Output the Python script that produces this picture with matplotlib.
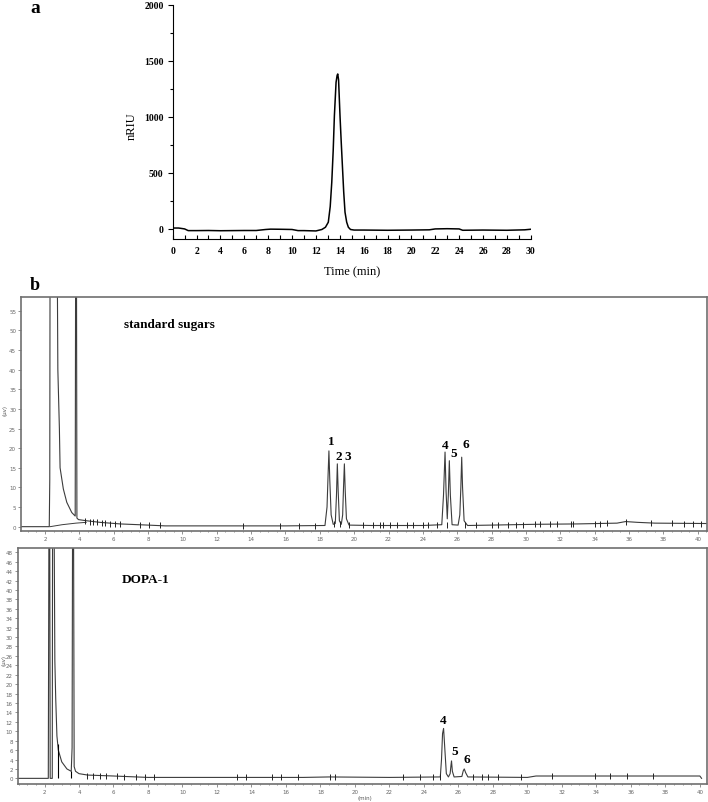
import matplotlib.pyplot as plt
from matplotlib.ticker import MultipleLocator

SERIF = 'Liberation Serif'

# panel a: RI chromatogram
a_time = [0, 0.5, 1.0, 1.3, 2, 3, 4, 5, 6, 7, 7.8, 8.2, 9, 10, 10.5, 11, 12, 12.5,
          12.8, 13.04, 13.2, 13.33, 13.45, 13.55, 13.69, 13.78, 13.83, 13.9, 14.02,
          14.12, 14.22, 14.33, 14.44, 14.58, 14.72, 14.9, 15.2, 16, 18, 20, 21.5,
          22, 23, 24, 24.3, 26, 28, 29.5, 30]
a_signal = [8, 8, 0, -15, -15, -14, -16, -15, -14, -14, -5, -2, -3, -5, -15, -15, -18,
            -5, 15, 60, 200, 416, 700, 1010, 1308, 1370, 1382, 1330, 1010, 780, 565,
            330, 149, 60, 15, -5, -10, -10, -12, -10, -8, 0, 2, 0, -12, -10, -12, -8, -3]
a_xticks = list(range(0, 31, 2))
a_yticks = [0, 500, 1000, 1500, 2000]

# panel b, top: standard sugars
std_time = [0.6, 2.25, 2.28, 2.30, 2.70, 2.75, 2.84, 2.88, 3.07, 3.27, 3.56, 3.76,
            3.79, 3.83, 3.86, 3.95, 4.43, 5.2, 6.37, 8, 9, 12, 16, 18.3,
            18.42, 18.48, 18.53, 18.58, 18.66, 18.78, 18.9, 18.97, 19.02, 19.07, 19.14,
            19.25, 19.33, 19.38, 19.43, 19.48, 19.55, 19.7, 21, 24, 25.1, 25.2, 25.29,
            25.35, 25.42, 25.48, 25.54, 25.6, 25.7, 26.05, 26.15, 26.21, 26.26, 26.31,
            26.4, 26.6, 28, 30.5, 33, 35.3, 35.8, 36.5, 37.5, 40.6]
std_signal = [0, 0, 12, 80, 80, 40, 25, 15, 9.6, 6.2, 3.6, 2.7,
              80, 80, 2.2, 1.8, 1.5, 1.1, 0.7, 0.4, 0.2, 0.2, 0.2, 0.3,
              5, 13, 19.3, 12, 3, 0.6, 0.8, 8, 16.0, 9, 1.5,
              0.6, 3, 10, 16.0, 9, 2, 0.4, 0.3, 0.3, 0.5, 8, 19.0,
              9, 2, 8, 16.8, 8, 0.5, 0.4, 3, 10, 17.7, 10,
              1.5, 0.3, 0.4, 0.6, 0.7, 0.9, 1.3, 1.1, 0.9, 0.8]
std_base_time = [2.3, 3.0, 3.8, 4.4]
std_base_signal = [0, 0.5, 0.9, 1.1]
std_event_time = [4.34, 4.63, 4.82, 5.02, 5.3, 5.5, 5.79, 6.09, 6.38, 7.55, 8.06, 8.7,
                  13.55, 15.7, 16.8, 17.7, 18.8, 19.2, 19.7, 20.5, 21.1, 21.5, 21.7,
                  22.1, 22.5, 23.1, 23.4, 24.0, 24.3, 24.8, 25.4, 26.45, 27.1, 28.0,
                  28.4, 28.97, 29.4, 29.85, 30.5, 30.8, 31.4, 31.8, 32.6, 32.76, 34.0,
                  34.3, 34.7, 35.8, 37.3, 38.5, 39.2, 39.7, 40.2]
std_event_signal = [1.4, 1.3, 1.2, 1.1, 1.0, 0.9, 0.8, 0.7, 0.6, 0.4, 0.4, 0.3,
                    0.2, 0.2, 0.2, 0.2, 0.6, 0.6, 0.4, 0.3, 0.3, 0.3, 0.3,
                    0.3, 0.3, 0.3, 0.3, 0.3, 0.3, 0.4, 0.4, 0.3, 0.3, 0.4,
                    0.4, 0.4, 0.5, 0.5, 0.6, 0.6, 0.6, 0.6, 0.7, 0.7, 0.8,
                    0.8, 0.9, 1.3, 1.0, 0.9, 0.8, 0.8, 0.8]
std_peaks = ['1', '2', '3', '4', '5', '6']
std_peak_time = [18.65, 19.12, 19.62, 25.29, 25.77, 26.49]
std_peak_label_y = [21.7, 18.1, 18.1, 20.9, 18.7, 21.1]
std_yticks = list(range(0, 56, 5))

# panel b, bottom: DOPA-1
dopa_time = [0.45, 2.22, 2.26, 2.30, 2.33, 2.45, 2.47, 2.55, 2.6, 2.65, 2.72, 2.8,
             3.0, 3.3, 3.55, 3.6, 3.63, 3.68, 3.72, 3.8, 4.0, 4.5, 6, 8, 13, 17,
             18.5, 22, 24.95, 25.02, 25.08, 25.14, 25.2, 25.3, 25.42, 25.52, 25.57,
             25.6, 25.65, 25.75, 26.2, 26.28, 26.34, 26.42, 26.55, 30, 30.5, 38.7,
             40.0, 40.1]
dopa_signal = [0, 0, 60, 60, 0, 0, 60, 60, 25, 17, 9, 6,
               3.5, 2, 1.5, 6.5, 60, 60, 2.5, 1.5, 1.0, 0.7, 0.5, 0.2, 0.2, 0.2,
               0.3, 0.2, 0.3, 4, 9.5, 10.6, 7, 1, 0.3, 1, 2.8, 3.7, 1.5, 0.3, 0.4,
               1.6, 2.0, 1.2, 0.3, 0.2, 0.5, 0.5, 0.5, 0]
dopa_drop_time = [2.76, 3.54]
dopa_drop_top = [7.2, 1.6]
dopa_event_time = [4.48, 4.83, 5.2, 5.55, 6.19, 6.6, 7.3, 7.8, 8.35, 13.14, 13.68,
                   15.17, 15.71, 16.68, 18.55, 18.84, 22.8, 23.8, 24.54, 24.93, 26.86,
                   27.34, 27.73, 28.3, 29.62, 31.4, 33.9, 34.8, 35.8, 37.3]
dopa_event_signal = [0.6, 0.5, 0.5, 0.45, 0.4, 0.35, 0.3, 0.25, 0.2, 0.2, 0.2,
                     0.2, 0.2, 0.2, 0.3, 0.3, 0.2, 0.2, 0.2, 0.2, 0.2,
                     0.2, 0.2, 0.2, 0.2, 0.5, 0.5, 0.5, 0.5, 0.5]
dopa_peaks = ['4', '5', '6']
dopa_peak_time = [25.14, 25.76, 26.48]
dopa_peak_label_y = [12.4, 5.9, 4.2]
dopa_yticks = list(range(0, 49, 2))

fig = plt.figure(figsize=(7.08, 8.03), dpi=100)

# ---- panel a ----
ax = fig.add_axes([0.2439, 0.7011, 0.5057, 0.2918])
ax.plot(a_time, a_signal, color='black', lw=1.1)
ax.set_xlim(0, 30)
ax.set_ylim(-90, 2000)
ax.spines['top'].set_visible(False)
ax.spines['right'].set_visible(False)
ax.set_xticks(a_xticks)
ax.set_yticks(a_yticks)
ax.xaxis.set_minor_locator(MultipleLocator(1))
ax.yaxis.set_minor_locator(MultipleLocator(250))
ax.tick_params(axis='x', which='both', direction='in', length=3, width=0.8, pad=5)
ax.tick_params(axis='y', which='major', direction='out', length=3.5, width=0.8, pad=3)
ax.tick_params(axis='y', which='minor', direction='out', length=2, width=0.8)
for lab in ax.get_xticklabels() + ax.get_yticklabels():
    lab.set_fontfamily(SERIF)
    lab.set_fontweight('bold')
    lab.set_fontsize(7)
ax.text(-0.1145, 0.484, 'nRIU', transform=ax.transAxes, rotation=90,
        ha='center', va='center', family=SERIF, fontsize=9)
ax.text(0.5006, -0.137, 'Time (min)', transform=ax.transAxes,
        ha='center', va='center', family=SERIF, fontsize=9)
fig.text(0.0424, 0.9834, 'a', family=SERIF, fontweight='bold', fontsize=14,
         ha='left', va='baseline')
fig.text(0.0414, 0.6389, 'b', family=SERIF, fontweight='bold', fontsize=13,
         ha='left', va='baseline')

trace_color = '#3c3c3c'
frame_color = '#707070'


def style_b(ax, yticks):
    for s in ax.spines.values():
        s.set_color(frame_color)
        s.set_linewidth(1.2)
    ax.set_yticks(yticks)
    ax.xaxis.set_major_locator(MultipleLocator(2))
    ax.xaxis.set_minor_locator(MultipleLocator(0.5))
    ax.tick_params(which='both', direction='out', colors='#666666', width=0.5,
                   labelsize=4, pad=1.5)
    ax.tick_params(which='major', length=2)
    ax.tick_params(which='minor', length=1)


# ---- panel b top ----
ax1 = fig.add_axes([0.02966, 0.3375, 0.96894, 0.2914])
ax1.plot(std_time, std_signal, color=trace_color, lw=0.8)
ax1.plot(std_base_time, std_base_signal, color=trace_color, lw=0.7)
ax1.plot(std_event_time, std_event_signal, ls='none', marker='|', ms=4.5,
         mew=0.7, color='#222222')
ax1.set_xlim(0.605, 40.54)
ax1.set_ylim(-1.1, 58.5)
style_b(ax1, std_yticks)
ax1.text(0.150, 0.872, 'standard sugars', transform=ax1.transAxes, family=SERIF,
         fontweight='bold', fontsize=9.5, ha='left', va='baseline')
for lab, t, y in zip(std_peaks, std_peak_time, std_peak_label_y):
    ax1.text(t, y, lab, family=SERIF, fontweight='bold', fontsize=9.5,
             ha='center', va='center')
fig.text(0.007, 0.489, '(μv)', rotation=90, fontsize=4, color='#555555',
         ha='center', va='center')

# ---- panel b bottom ----
ax2 = fig.add_axes([0.025, 0.0224, 0.973, 0.2939])
ax2.plot(dopa_time, dopa_signal, color=trace_color, lw=0.8)
ax2.vlines(dopa_drop_time, 0, dopa_drop_top, color='black', lw=0.8)
ax2.plot(dopa_event_time, dopa_event_signal, ls='none', marker='|', ms=4.5,
         mew=0.7, color='#222222')
ax2.set_xlim(0.446, 40.39)
ax2.set_ylim(-1.2, 48.9)
style_b(ax2, dopa_yticks)
ax2.text(0.151, 0.8547, 'DOPA-1', transform=ax2.transAxes, family=SERIF,
         fontweight='bold', fontsize=9.5, ha='left', va='baseline')
for lab, t, y in zip(dopa_peaks, dopa_peak_time, dopa_peak_label_y):
    ax2.text(t, y, lab, family=SERIF, fontweight='bold', fontsize=9.5,
             ha='center', va='center')
fig.text(0.005, 0.178, '(μv)', rotation=90, fontsize=4, color='#555555',
         ha='center', va='center')
fig.text(0.515, 0.005, '(min)', fontsize=4, color='#555555', ha='center',
         va='center')

fig.savefig('out.png', dpi=100)
